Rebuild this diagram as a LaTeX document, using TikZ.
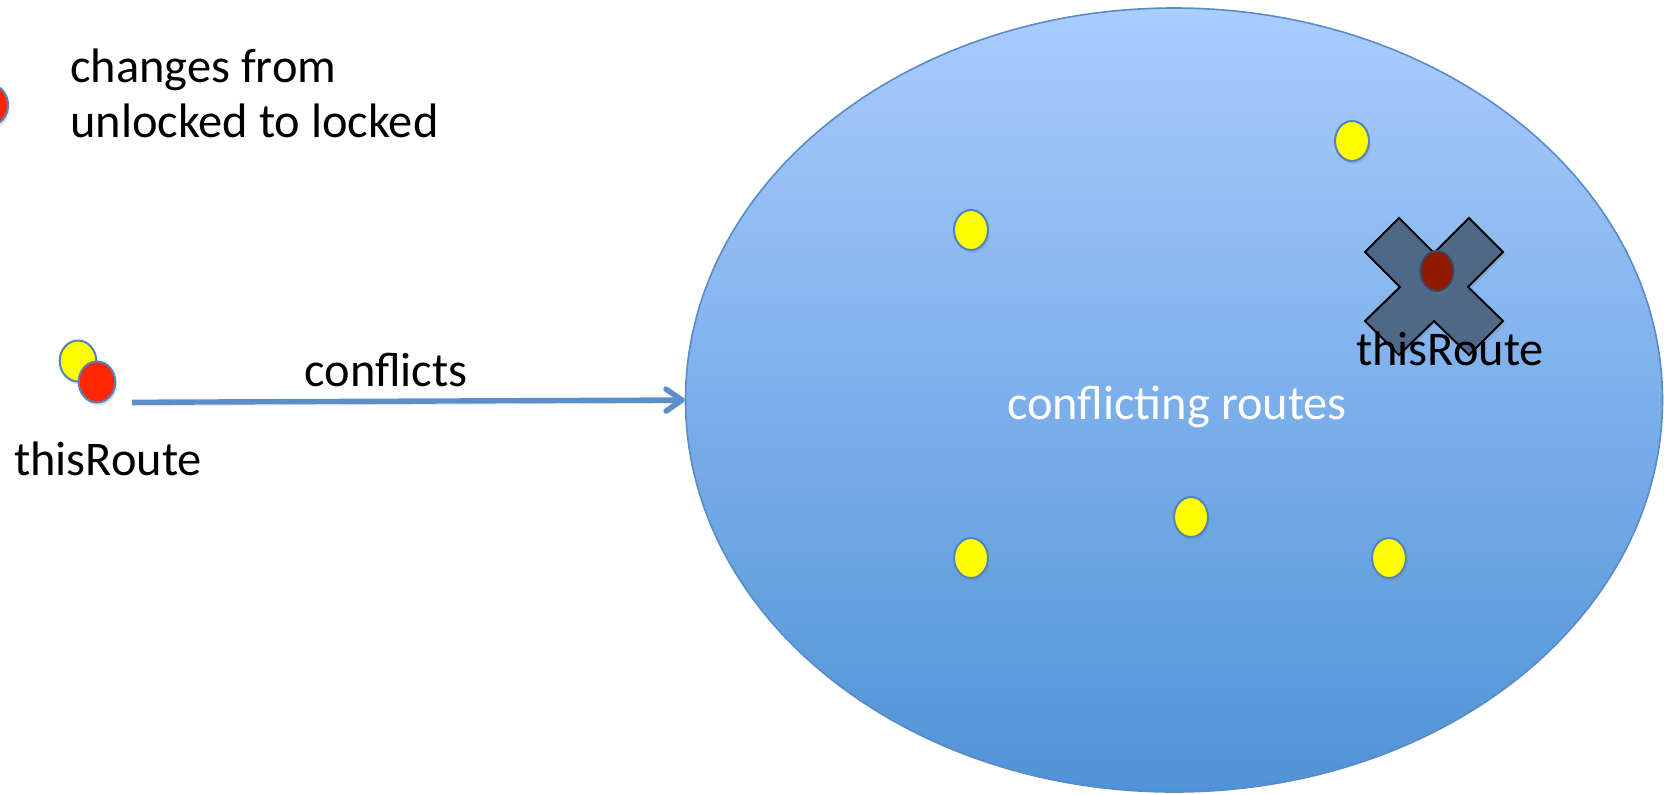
\documentclass[tikz,border=0pt]{standalone}
\usepackage{fontspec}
\setmainfont{Carlito}
\usetikzlibrary{shapes.geometric,arrows.meta,shadows}
\definecolor{ellTop}{RGB}{170,204,254}
\definecolor{ellBot}{RGB}{79,147,214}
\definecolor{ellEdge}{RGB}{90,139,198}
\definecolor{dotEdge}{RGB}{84,130,190}
\definecolor{dotYellow}{RGB}{255,255,0}
\definecolor{dotRed}{RGB}{255,38,0}
\definecolor{dotDark}{RGB}{145,25,0}
\definecolor{crossFill}{RGB}{80,104,135}
\definecolor{arrowBlue}{RGB}{91,143,203}
\begin{document}
\begin{tikzpicture}[x=0.5pt,y=-0.5pt,
  lbl/.style={font=\fontsize{24.2}{27.5}\selectfont, inner sep=0pt},
  dotbase/.style={ellipse, inner sep=0pt, draw=dotEdge, line width=1pt,
    drop shadow={shadow xshift=0.8pt, shadow yshift=-1.5pt, opacity=0.25}},
  ydot/.style={dotbase, fill=dotYellow, minimum width=17pt, minimum height=20pt},
  bigdot/.style={dotbase, minimum width=18.3pt, minimum height=20.5pt},
  crossshape/.style={fill=crossFill, draw=black, line width=1pt, line join=miter,
    drop shadow={shadow xshift=1pt, shadow yshift=-1.5pt, opacity=0.25}},
  conn/.style={draw=arrowBlue, line width=2.7pt,
    -{Straight Barb[length=8pt, width=11pt, line cap=round, line join=round]},
    preaction={draw=black, opacity=0.12, transform canvas={yshift=-1.6pt}}}
]
\useasboundingbox (0,0) rectangle (1664,794);
% set of conflicting routes
\node[ellipse, minimum width=488.5pt, minimum height=392pt, inner sep=0pt,
  draw=ellEdge, line width=0.8pt, top color=ellTop, bottom color=ellBot] (set) at (1174,400) {};
\node[lbl, text=white, anchor=base] (setlbl) at (1177,419) {conflicting routes};
\node[ydot] (c1) at (971,230) {};
\node[ydot] (c2) at (1352,141) {};
\node[ydot] (c3) at (971,558) {};
\node[ydot] (c4) at (1191,517) {};
\node[ydot] (c5) at (1389,558) {};
% crossed-out route
\begin{scope}[shift={(1434,287)}]
\draw[crossshape] (-69,-35) -- (-35,-69) -- (0,-34) -- (35,-69) -- (69,-35) -- (34,0)
  -- (69,34) -- (35,68) -- (0,34) -- (-35,68) -- (-69,34) -- (-34,0) -- cycle;
\end{scope}
\node[dotbase, fill=dotDark, minimum width=16.5pt, minimum height=20pt, draw=crossFill!70!black] (sel) at (1437,271) {};
\node[lbl, anchor=base] (selname) at (1450,365) {thisRoute};
% legend
\node[bigdot, fill=dotRed, minimum width=17pt, minimum height=20pt] (legend) at (-9,105) {};
\node[lbl, anchor=base west, align=left] (legendtxt) at (70,137) {changes from\\unlocked to locked};
% this route
\node[bigdot, fill=dotYellow] (srcY) at (78,361) {};
\node[bigdot, fill=dotRed] (srcR) at (97,382) {};
\node[lbl, anchor=base] (srcname) at (108,475) {thisRoute};
\coordinate (astart) at (132,402.3);
\draw[conn] (astart) -- (set.west);
\node[lbl, anchor=base] (conf) at (386,386) {conflicts};
\end{tikzpicture}
\end{document}
